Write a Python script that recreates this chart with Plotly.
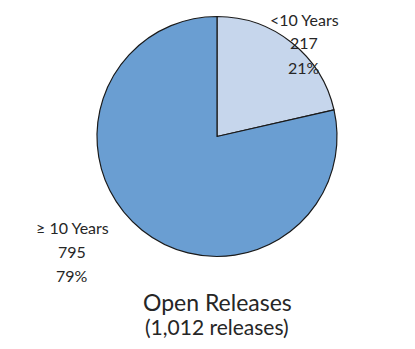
import plotly.graph_objects as go

labels = ["<10 Years", "≥ 10 Years"]
values = [217, 795]
percents = ["21%", "79%"]
colors = ["#C6D6EC", "#6A9ED2"]
title_main = "Open Releases"
title_sub = "(1,012 releases)"

W, H = 415, 349

fig = go.Figure(go.Pie(
    labels=labels,
    values=values,
    sort=False,
    direction="clockwise",
    rotation=0,
    textinfo="none",
    hoverinfo="label+value+percent",
    marker=dict(colors=colors, line=dict(color="#1a1a1a", width=1.2)),
    domain=dict(x=[97 / W, 337 / W], y=[1 - 257 / H, 1 - 16 / H]),
    showlegend=False,
))

FONT = "Lato"
LBL_COLOR = "#262626"

def add_lines(lines, cx, ys, size):
    for t, y in zip(lines, ys):
        fig.add_annotation(
            text=t, x=cx / W, y=1 - y / H, xref="paper", yref="paper",
            showarrow=False, xanchor="center", yanchor="middle",
            font=dict(family=FONT, size=size, color=LBL_COLOR),
        )

add_lines([labels[0], str(values[0]), percents[0]], 304, [19, 43, 67], 16)
add_lines([labels[1], str(values[1]), percents[1]], 72, [227, 251, 275], 16)
add_lines([title_main], 217, [302], 23)
add_lines([title_sub], 217, [326], 21)

fig.update_layout(
    width=W, height=H,
    margin=dict(l=0, r=0, t=0, b=0),
    paper_bgcolor="white",
    plot_bgcolor="white",
)

fig.write_html("out.html")
